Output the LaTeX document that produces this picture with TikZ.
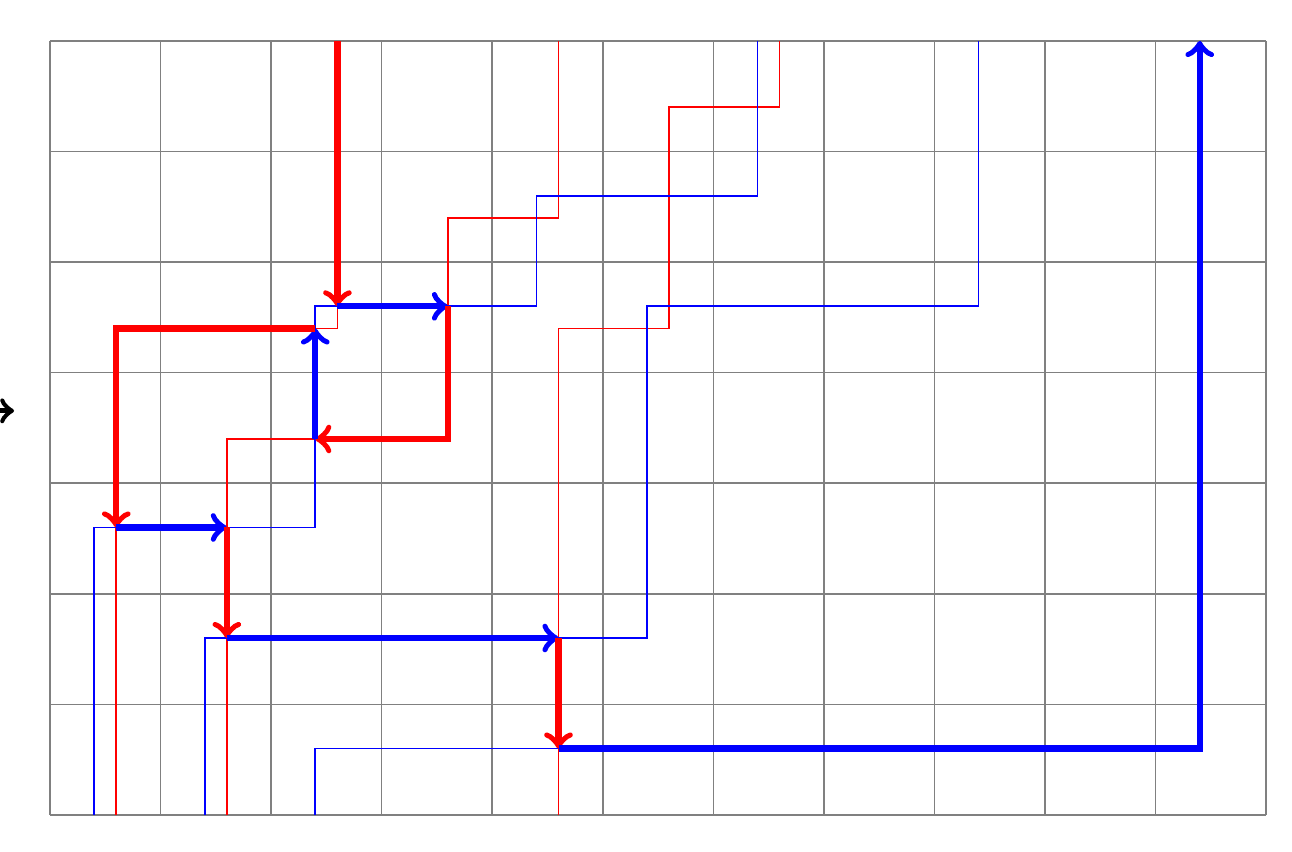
\documentclass[tikz,border=0pt]{standalone}
\begin{document}
\begin{tikzpicture}[x=1cm,y=1cm,
  gridline/.style={gray,line width=0.4pt},
  thinred/.style={red,line width=0.45pt},
  thinblue/.style={blue,line width=0.45pt},
  thickred/.style={red,line width=1.6pt,->,miter limit=10},
  thickblue/.style={blue,line width=1.6pt,->,miter limit=10},
  blackarrow/.style={black,line width=1.3pt,->}]
\useasboundingbox (-0.452,-0.335) rectangle (11.235,7.371);
\draw[gridline] (0,0) grid (11,7);
% thin red paths
\draw[thinred] (2.6,7) -- (2.6,4.4) -- (0.6,4.4) -- (0.6,0);
\draw[thinred] (4.6,7) -- (4.6,5.4) -- (3.6,5.4) -- (3.6,3.4) -- (1.6,3.4) -- (1.6,0);
\draw[thinred] (6.6,7) -- (6.6,6.4) -- (5.6,6.4) -- (5.6,4.4) -- (4.6,4.4) -- (4.6,0);
% thin blue paths
\draw[thinblue] (0.4,0) -- (0.4,2.6) -- (2.4,2.6) -- (2.4,4.6) -- (4.4,4.6) -- (4.4,5.6) -- (6.4,5.6) -- (6.4,7);
\draw[thinblue] (1.4,0) -- (1.4,1.6) -- (5.4,1.6) -- (5.4,4.6) -- (8.4,4.6) -- (8.4,7);
\draw[thinblue] (2.4,0) -- (2.4,0.6) -- (10.4,0.6) -- (10.4,7);
% thick arrows
\draw[thickred] (2.6,7) -- (2.6,4.6);
\draw[thickblue] (2.6,4.6) -- (3.6,4.6);
\draw[thickred] (3.6,4.6) -- (3.6,3.4) -- (2.4,3.4);
\draw[thickblue] (2.4,3.4) -- (2.4,4.4);
\draw[thickred] (2.4,4.4) -- (0.6,4.4) -- (0.6,2.6);
\draw[thickblue] (0.6,2.6) -- (1.6,2.6);
\draw[thickred] (1.6,2.6) -- (1.6,1.6);
\draw[thickblue] (1.6,1.6) -- (4.6,1.6);
\draw[thickred] (4.6,1.6) -- (4.6,0.6);
\draw[thickblue] (4.6,0.6) -- (10.4,0.6) -- (10.4,7);
% black arrow at left edge
\coordinate (ba) at (-0.8,3.655);
\coordinate (bb) at (-0.325,3.655);
\draw[blackarrow] (ba) -- (bb);
\end{tikzpicture}
\end{document}
